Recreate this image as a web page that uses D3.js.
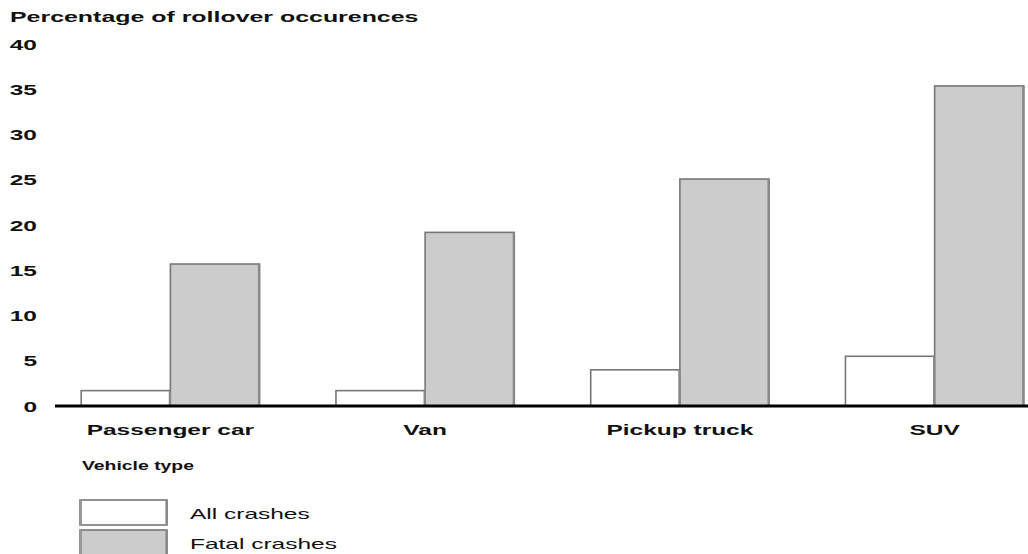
<!DOCTYPE html>
<html>
<head>
<meta charset="utf-8">
<script src="https://cdn.jsdelivr.net/npm/d3@7"></script>
<style>
  html, body { margin: 0; padding: 0; background: #fff; }
  svg { display: block; }
  text { font-family: "Liberation Sans", Arial, Helvetica, sans-serif; fill: #111; }
</style>
</head>
<body>
<svg id="chart" width="1028" height="554"></svg>
<script>
// ---- data ----
const categories = ["Passenger car", "Van", "Pickup truck", "SUV"];
const seriesNames = ["All crashes", "Fatal crashes"];
const allCrashes = [1.7, 1.7, 4.0, 5.5];
const fatalCrashes = [15.7, 19.2, 25.1, 35.4];
const yTicks = [0, 5, 10, 15, 20, 25, 30, 35, 40];
const yTitle = "Percentage of rollover occurences";
const xTitle = "Vehicle type";

const colors = { "All crashes": "#ffffff", "Fatal crashes": "#cccccc" };
const SX = 1.75; // horizontal text stretch seen in the reference

const svg = d3.select("#chart");

const y = d3.scaleLinear().domain([0, 40]).range([406, 44.3]);
const x = d3.scaleBand().domain(categories).range([43, 1062])
  .paddingInner(0.3).paddingOuter(0.15);
const xs = d3.scaleBand().domain(seriesNames).range([0, x.bandwidth()]).padding(0);

// title
svg.append("text")
  .attr("transform", `translate(10,22) scale(${SX - 0.03},1)`)
  .attr("font-size", 14.5).attr("font-weight", "bold")
  .text(yTitle);

// y axis labels
const yAxis = d3.axisLeft(y).tickValues(yTicks).tickSize(0).tickPadding(0);
const gy = svg.append("g").attr("transform", "translate(37,0)").call(yAxis);
gy.select(".domain").remove();
gy.selectAll(".tick text")
  .attr("x", 0)
  .attr("dy", "0.36em")
  .attr("transform", `scale(${SX},1)`)
  .attr("font-size", 14).attr("font-weight", "bold")
  .attr("font-family", "Liberation Sans, Arial, sans-serif")
  .attr("fill", "#111");

// bars
const rows = categories.map((c, i) => ({ cat: c, vals: [
  { s: "All crashes", v: allCrashes[i] },
  { s: "Fatal crashes", v: fatalCrashes[i] }
]}));

const groups = svg.append("g").selectAll("g").data(rows).join("g")
  .attr("transform", d => `translate(${x(d.cat)},0)`);

groups.selectAll("rect").data(d => d.vals).join("rect")
  .attr("x", d => xs(d.s))
  .attr("y", d => y(d.v))
  .attr("width", xs.bandwidth())
  .attr("height", d => y(0) - y(d.v))
  .attr("fill", d => colors[d.s])
  .attr("stroke", "#777")
  .attr("stroke-width", 1.6);

// darker right edge (shadow look)
groups.selectAll("line.edge").data(d => d.vals).join("line")
  .attr("class", "edge")
  .attr("x1", d => xs(d.s) + xs.bandwidth() - 0.5)
  .attr("x2", d => xs(d.s) + xs.bandwidth() - 0.5)
  .attr("y1", d => y(d.v))
  .attr("y2", y(0))
  .attr("stroke", "#888")
  .attr("stroke-width", 2.2);

// baseline
svg.append("line")
  .attr("x1", 55).attr("x2", 1028)
  .attr("y1", y(0)).attr("y2", y(0))
  .attr("stroke", "#000").attr("stroke-width", 3);

// category labels
svg.append("g").selectAll("text").data(categories).join("text")
  .attr("transform", d => `translate(${x(d) + x.bandwidth() / 2},435) scale(${SX},1)`)
  .attr("text-anchor", "middle")
  .attr("font-size", 14).attr("font-weight", "bold")
  .text(d => d);

// x title
svg.append("text")
  .attr("transform", `translate(82,470) scale(1.55,1)`)
  .attr("font-size", 12.5).attr("font-weight", "bold")
  .text(xTitle);

// legend
const legend = svg.append("g").selectAll("g").data(seriesNames).join("g")
  .attr("transform", (d, i) => `translate(80,${500 + i * 30})`);
legend.append("rect")
  .attr("width", 87).attr("height", 25)
  .attr("fill", d => colors[d])
  .attr("stroke", "#777").attr("stroke-width", 1.6);
legend.append("line")
  .attr("x1", 1).attr("x2", 1).attr("y1", 0).attr("y2", 25)
  .attr("stroke", "#999").attr("stroke-width", 2);
legend.append("line")
  .attr("x1", 86.5).attr("x2", 86.5).attr("y1", 0).attr("y2", 25)
  .attr("stroke", "#888").attr("stroke-width", 2.2);
legend.append("text")
  .attr("transform", `translate(110,19) scale(${SX},1)`)
  .attr("font-size", 14)
  .text(d => d);
</script>
</body>
</html>
